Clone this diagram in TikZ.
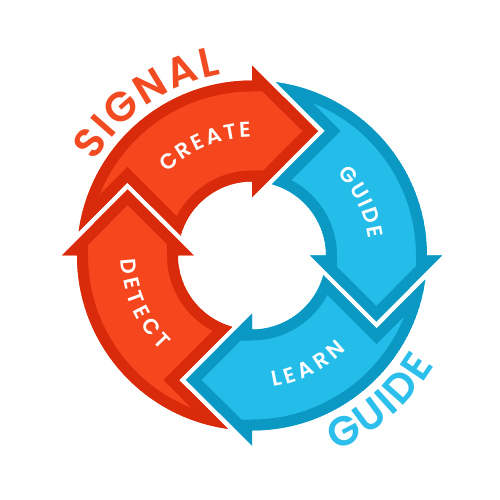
\documentclass[tikz,border=0pt]{standalone}
\usepackage{fontspec}
\IfFontExistsTF{Poppins SemiBold}{%
	\newfontfamily\stepfont{Poppins SemiBold}
	\newfontfamily\titlefont{Poppins SemiBold}
}{%
	\newfontfamily\stepfont{Poppins}
	\newfontfamily\titlefont{Poppins}
}
\usetikzlibrary{decorations.text}

\definecolor{redlight}{HTML}{F5461E}
\definecolor{reddark}{HTML}{D92B0B}
\definecolor{bluelight}{HTML}{24BDEA}
\definecolor{bluedark}{HTML}{0B99C4}
\definecolor{signalred}{HTML}{F24B22}
\definecolor{guideblue}{HTML}{2DBFEB}

% one quarter of the ring, head at the top pointing clockwise
\newcommand\ringarrow{(172.06:175) arc[start angle=172.06, end angle=90, radius=175] -- (0,190) -- (66,124.5) -- (0,58) -- (0,74) arc[start angle=90, end angle=164.48, radius=74] -- (-124.5,73) -- cycle}
% letter gaps
\newcommand\gapa{\kern1.4pt}
\newcommand\gapb{\kern2.5pt}
\newcommand\gapt{\kern1.3pt}

\tikzset{
	steptext/.style={decorate, decoration={text along path, text align=center, text color=white,
		text={|\stepfont\fontsize{12.2}{14}\selectfont|#1}}},
	titletext/.style 2 args={decorate, decoration={text along path, text align=center, text color=#2,
		text={|\titlefont\fontsize{23.5}{26}\selectfont|#1}}}
}

\begin{document}
\begin{tikzpicture}[x=0.2mm, y=0.2mm]
	\useasboundingbox (-252,-244.5) rectangle (248,255.5);

	\foreach \ang/\fillc/\linec in {0/redlight/reddark, -90/bluelight/bluedark, 180/bluelight/bluedark, 90/redlight/reddark}{
		\begin{scope}[rotate=\ang]
			\clip \ringarrow;
			\fill[\fillc] \ringarrow;
			\draw[\linec, line width=4.4mm, line join=miter] \ringarrow;
		\end{scope}
	}

	% words inside the arrows
	\path[steptext={C{\gapa}R{\gapa}E{\gapa}A{\gapa}T{\gapa}E}] (153:118) arc[start angle=153, end angle=73, radius=118];
	\path[steptext={G{\gapa}U{\gapa}I{\gapa}D{\gapa}E}] (66:118) arc[start angle=66, end angle=-14, radius=118];
	\path[steptext={L{\gapb}E{\gapb}A{\gapb}R{\gapb}N}] (-103:133) arc[start angle=-103, end angle=-23, radius=133];
	\path[steptext={D{\gapb}E{\gapb}T{\gapb}E{\gapb}C{\gapb}T}] (164:131) arc[start angle=164, end angle=244, radius=131];

	% outer titles
	\path[titletext={S{\gapt}I{\gapt}G{\gapt}N{\gapt}A{\gapt}L}{signalred}] (164.5:183) arc[start angle=164.5, end angle=84.5, radius=183];
	\path[titletext={G{\gapt}U{\gapt}I{\gapt}D{\gapt}E}{guideblue}] (-88.9:213) arc[start angle=-88.9, end angle=-8.9, radius=213];
\end{tikzpicture}
\end{document}
